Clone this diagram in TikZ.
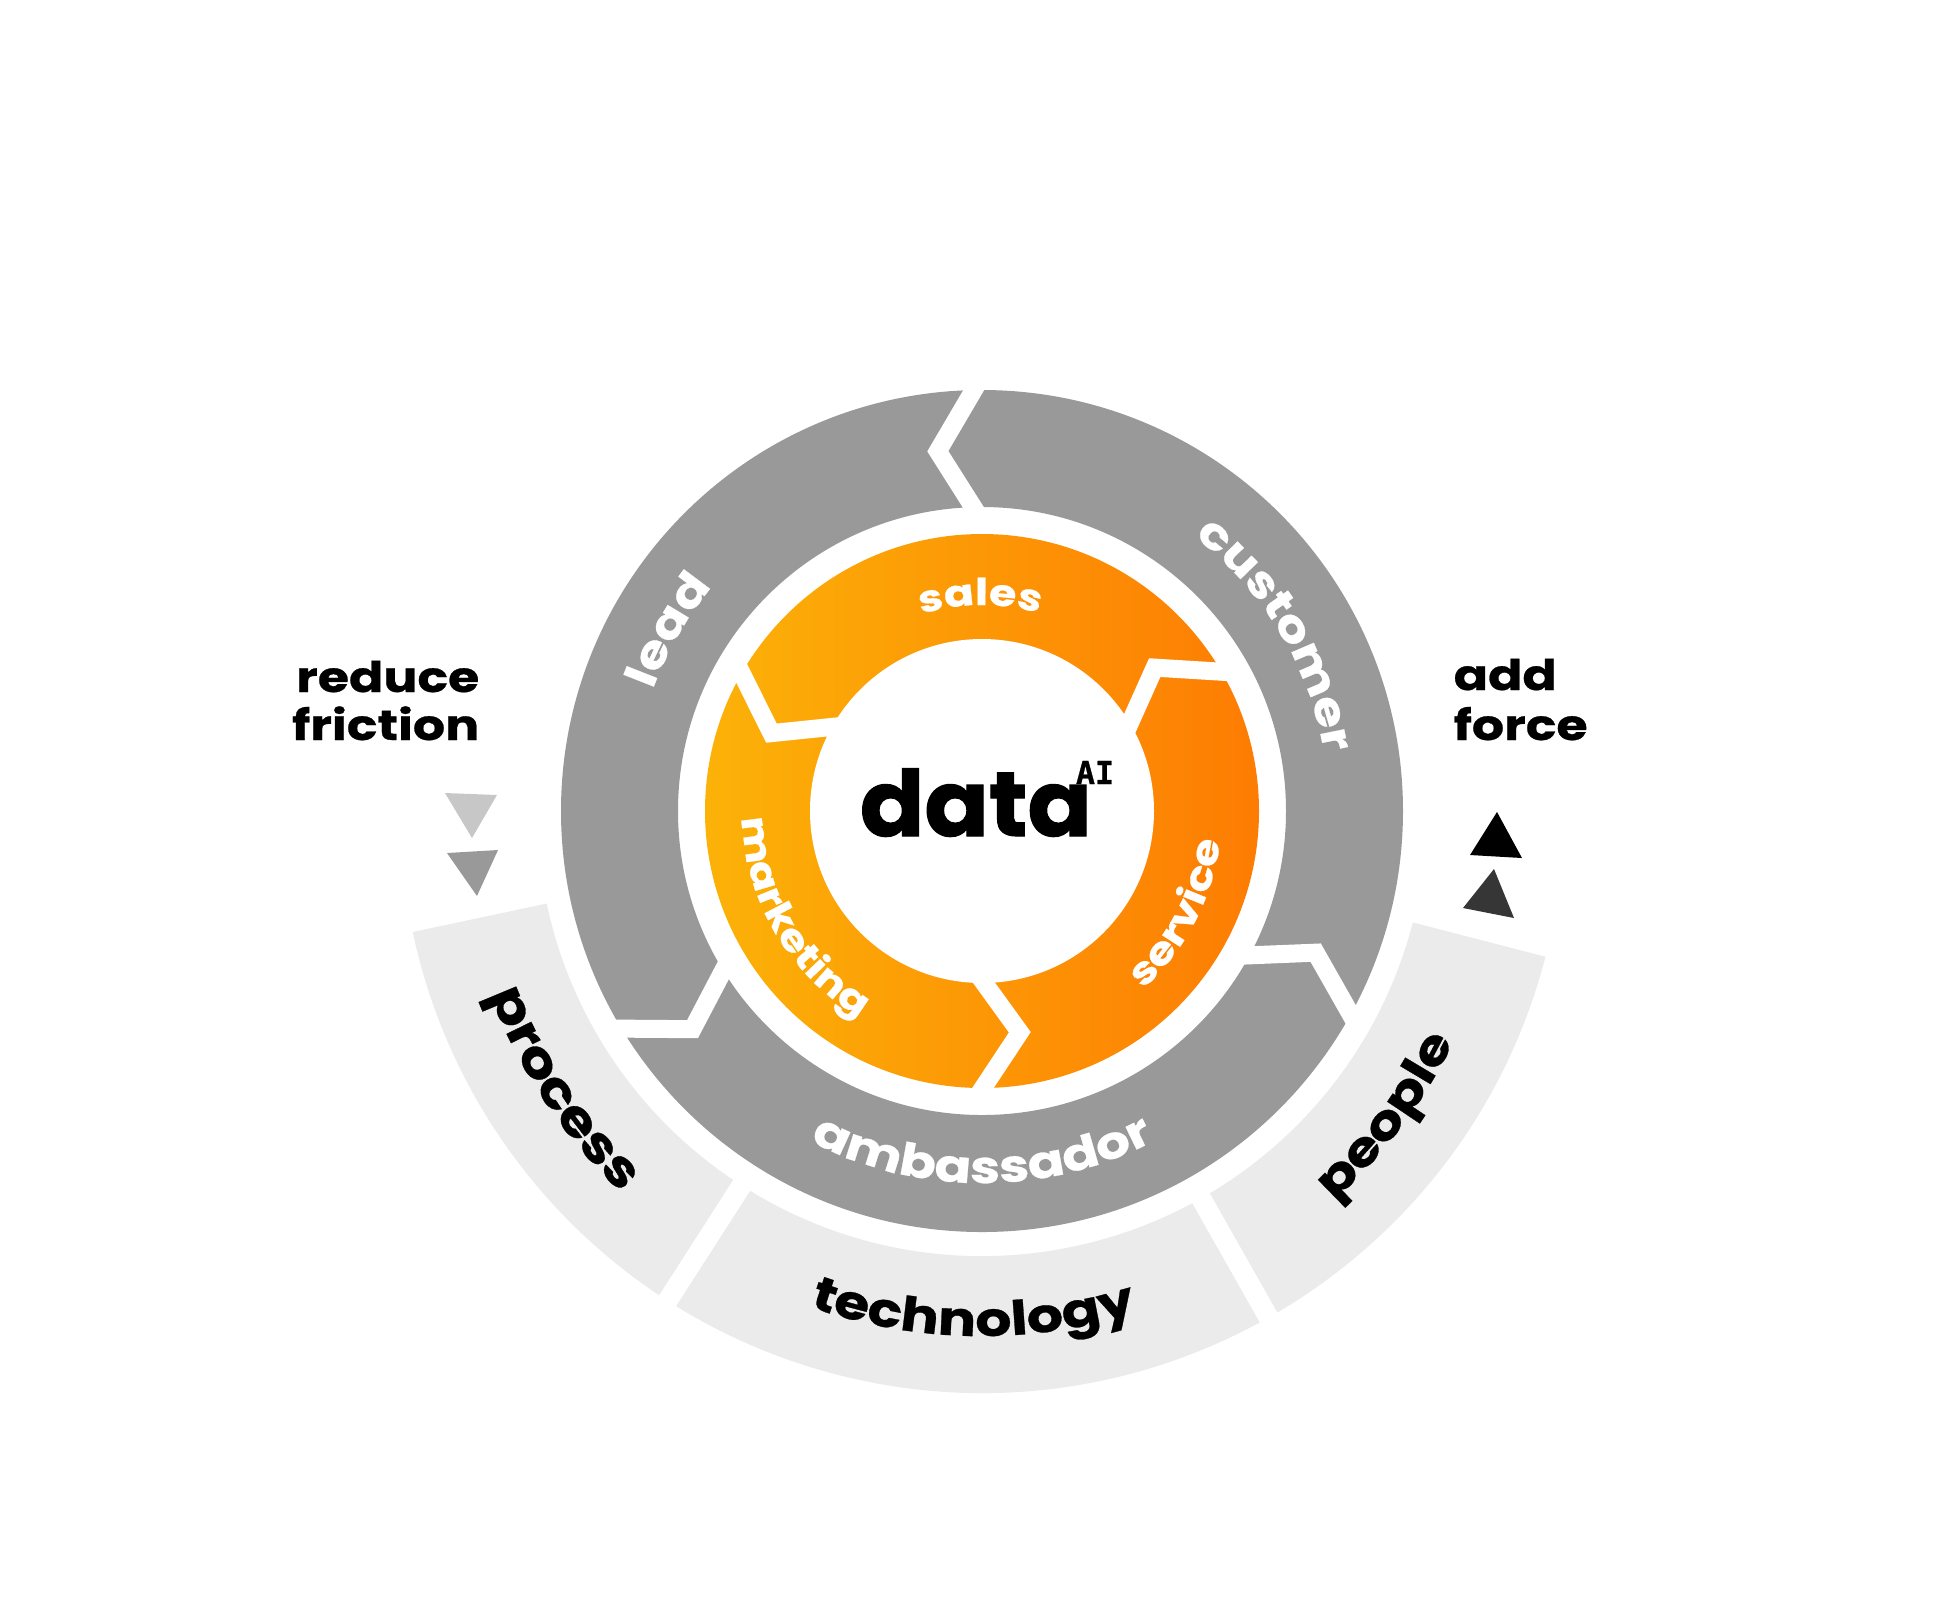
\documentclass[tikz,border=0pt]{standalone}
\usepackage{fontspec}
\setmainfont{Poppins}[FakeStretch = 1.2, BoldFeatures = {FakeBold = 0.6}]
\newfontfamily\datafont{Poppins}[FakeStretch = 1.04, BoldFeatures = {FakeBold = 1.2}]
\newfontfamily\monofont{DejaVu Sans Mono}[BoldFeatures = {FakeBold = 0.8}]
\usetikzlibrary{decorations.text}
\newcommand\ringfont[1]{\bfseries\fontsize{#1}{#1}\selectfont}

\begin{document}
\begin{tikzpicture}
[line cap = butt,
ring gap/.style = {draw = white, line width = 0.18cm, line join = miter},
band gap/.style = {draw = white, line width = 0.2cm},
side text/.style = {font = \ringfont{12}, inner sep = 0pt},
curved text/.style 2 args = {decorate, decoration = {text along path, text align = center, text color = #1, text = {#2}}}]

\definecolor{ringgray}{RGB}{153,153,153}
\definecolor{bandgray}{RGB}{235,235,235}
\definecolor{orangeleft}{RGB}{252,178,8}
\definecolor{orangeright}{RGB}{253,124,3}

\useasboundingbox (-9.82, -8.10) rectangle (9.56, 8.11);
\coordinate (hub) at (0, 0);

\fill[bandgray] (-168:4.45) arc [start angle = -168, end angle = -14.5, radius = 4.45] -- (-14.5:5.82) arc [start angle = -14.5, end angle = -168, radius = 5.82] -- cycle;
\foreach \a in {-122.7, -60.5} \draw[band gap] (\a:4.3) -- (\a:6);

\fill[ringgray, even odd rule] (hub) circle [radius = 4.21] (hub) circle [radius = 3.04];
\foreach \a in {90, 210, 330} \draw[ring gap] (\a:4.35) -- ({\a + 7}:3.625) -- (\a:2.9);

\shade[left color = orangeleft, right color = orangeright] (hub) circle [radius = 2.77];
\fill[white] (hub) circle [radius = 1.72];
\foreach \a in {29, 149, 269} \draw[ring gap] (\a:2.86) -- ({\a + 10.7}:2.245) -- (\a:1.65);

\node[font = \datafont\bfseries\fontsize{26}{26}\selectfont, anchor = base, inner sep = 0pt] (data) at (-0.06, -0.25) {data};
\node[font = \monofont\bfseries\fontsize{9}{9}\selectfont, inner sep = 0pt] (ai) at (1.13, 0.385) {AI};

\path[curved text = {white}{|\ringfont{10.5}|sales}] (140:2.06) arc [start angle = 140, end angle = 41, radius = 2.06];
\path[curved text = {white}{|\ringfont{10.5}|marketing}] (150:2.40) arc [start angle = 150, end angle = 271, radius = 2.40];
\path[curved text = {white}{|\ringfont{10.8}|service}] (-90:2.40) arc [start angle = -90, end angle = 35, radius = 2.40];

\path[curved text = {white}{|\ringfont{12.5}|lead}] (200:3.51) arc [start angle = 200, end angle = 100, radius = 3.51];
\path[curved text = {white}{|\ringfont{12.3}|customer}] (81:3.47) arc [start angle = 81, end angle = -19, radius = 3.47];
\path[curved text = {white}{|\ringfont{12.8}|ambassador}] (-150:3.72) arc [start angle = -150, end angle = -30, radius = 3.72];

\path[curved text = {black}{|\ringfont{14}|process}] (-190:5.25) arc [start angle = -190, end angle = -103, radius = 5.25];
\path[curved text = {black}{|\ringfont{13.5}|technology}] (-140:5.25) arc [start angle = -140, end angle = -42, radius = 5.25];
\path[curved text = {black}{|\ringfont{13.5}|people}] (-80:5.25) arc [start angle = -80, end angle = 6, radius = 5.25];

\node[side text, anchor = base east] (reduce) at (-5.02, 1.19) {reduce};
\node[side text, anchor = base east] (friction) at (-5.02, 0.71) {friction};
\node[side text, anchor = base west] (add) at (4.71, 1.21) {add};
\node[side text, anchor = base west] (force) at (4.71, 0.71) {force};

\fill[black!22] (-5.37, 0.18) -- (-4.85, 0.16) -- (-5.10, -0.27) -- cycle;
\fill[ringgray] (-5.35, -0.42) -- (-4.84, -0.39) -- (-5.05, -0.85) -- cycle;
\fill[black] (5.15, -0.01) -- (4.88, -0.44) -- (5.40, -0.47) -- cycle;
\fill[black!79] (5.12, -0.58) -- (4.81, -0.97) -- (5.32, -1.07) -- cycle;
\end{tikzpicture}
\end{document}
